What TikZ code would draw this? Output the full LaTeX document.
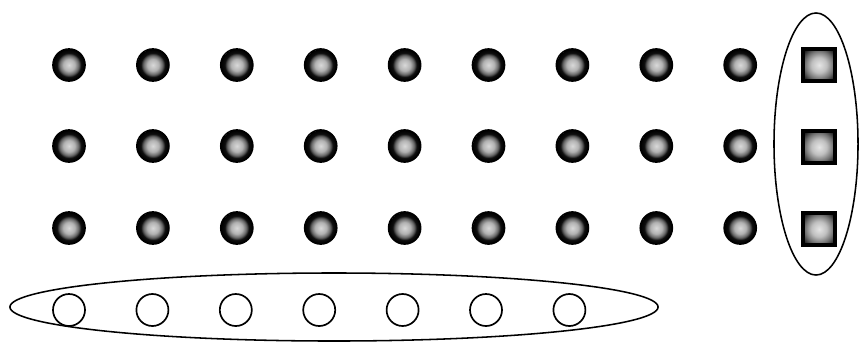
\documentclass[tikz,border=0pt]{standalone}
\usepackage{tikz}
\usetikzlibrary{positioning,shapes.geometric}

\pgfdeclareradialshading{speckle}{\pgfpoint{0bp}{0bp}}{%
  color(0bp)=(black!15); color(9bp)=(black!30);
  color(15bp)=(black!60); color(19bp)=(black!95); color(25bp)=(black)}
\pgfdeclareradialshading{speckbox}{\pgfpoint{0bp}{0bp}}{%
  color(0bp)=(black!10); color(12bp)=(black!25);
  color(22bp)=(black!55); color(30bp)=(black!85); color(36bp)=(black)}

\begin{document}
\begin{tikzpicture}[
    x=0.025cm,y=-0.025cm,
    dot/.style={circle,draw=black,line width=1.2pt,
      inner sep=0pt,minimum size=0.8cm,shading=speckle},
    box/.style={rectangle,draw=black,line width=2.6pt,
      inner sep=0pt,minimum size=0.8cm,shading=speckbox},
    hole/.style={circle,draw=black,line width=1.2pt,fill=white,
      inner sep=0pt,minimum size=0.8cm},
    ring/.style={ellipse,draw=black,line width=1.1pt,inner sep=0pt}
  ]
    \useasboundingbox (0,0) rectangle (859,343);

    % grid of filled dots
    \foreach \r/\y in {1/65,2/146,3/228}{
      \foreach \c in {1,...,9}{
        \node[dot] (d-\r-\c) at ({69+83.9*(\c-1)},\y) {};
      }
    }

    % squares and the ellipse round them
    \node[box] (s-1) at (819,65) {};
    \node[box] (s-2) at (819,147) {};
    \node[box] (s-3) at (819,229) {};
    \node[ring,minimum width=2.1cm,minimum height=6.55cm] (right)
      at (816,144) {};

    % open circles and the long ellipse
    \node[ring,minimum width=16.2cm,minimum height=1.7cm] (bottom)
      at (334,307) {};
    \foreach \c in {1,...,7}{
      \node[hole] (o-\c) at ({69+83.4*(\c-1)},310) {};
    }
  \end{tikzpicture}
\end{document}
